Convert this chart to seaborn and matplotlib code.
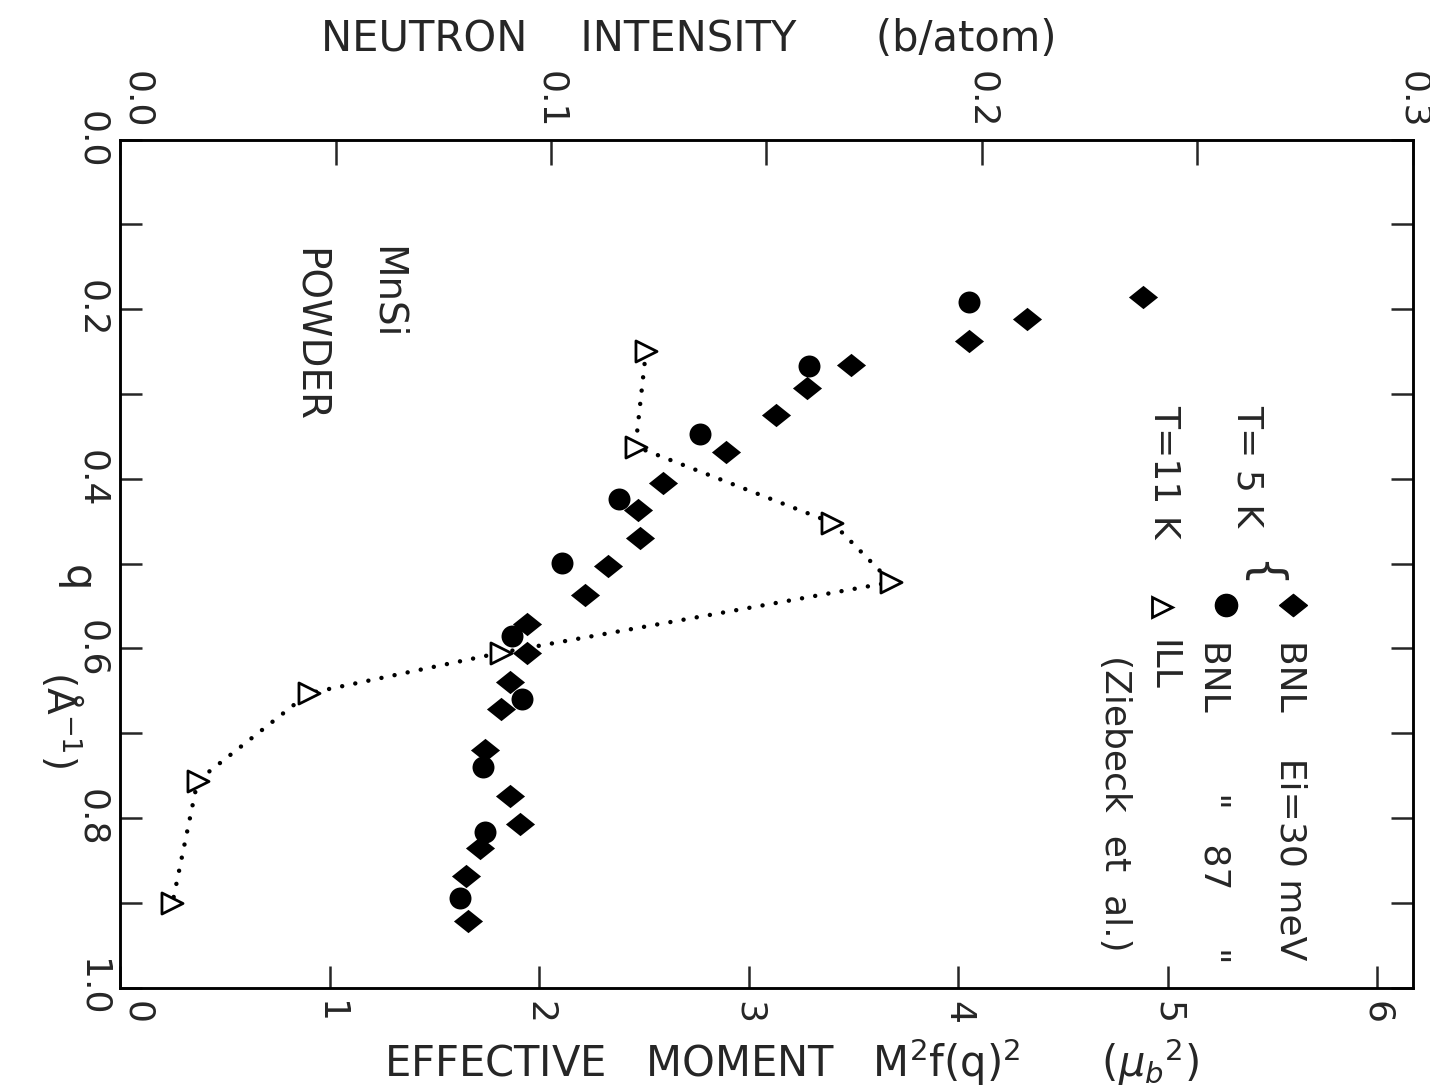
import pandas as pd
import seaborn as sns
import matplotlib.pyplot as plt
from matplotlib.path import Path
from matplotlib.ticker import MultipleLocator, FuncFormatter

# BNL, Ei = 30 meV (filled diamonds), T = 5 K
q_30 = [0.186, 0.212, 0.237, 0.266, 0.293, 0.325, 0.369, 0.405, 0.437, 0.470, 0.503,
        0.537, 0.571, 0.605, 0.640, 0.671, 0.720, 0.774, 0.807, 0.835, 0.869, 0.922]
m_30 = [4.88, 4.33, 4.05, 3.49, 3.28, 3.13, 2.89, 2.59, 2.47, 2.48, 2.33,
        2.22, 1.94, 1.94, 1.86, 1.82, 1.74, 1.86, 1.91, 1.72, 1.65, 1.66]

# BNL, Ei = 87 meV (filled circles), T = 5 K
q_87 = [0.192, 0.267, 0.347, 0.424, 0.499, 0.585, 0.660, 0.740, 0.817, 0.894]
m_87 = [4.05, 3.29, 2.77, 2.38, 2.11, 1.87, 1.92, 1.73, 1.74, 1.62]

# ILL (Ziebeck et al.), T = 11 K (open triangles)
q_ill = [0.249, 0.362, 0.452, 0.522, 0.605, 0.653, 0.756, 0.900]
m_ill = [2.51, 2.46, 3.40, 3.68, 1.82, 0.90, 0.37, 0.25]

bnl30 = pd.DataFrame({'moment': m_30, 'q': q_30})
bnl87 = pd.DataFrame({'moment': m_87, 'q': q_87})
ill = pd.DataFrame({'moment': m_ill, 'q': q_ill})

sns.set_style('ticks')
plt.rcParams['font.family'] = ['DejaVu Sans']
plt.rcParams['mathtext.fontset'] = 'dejavusans'

fig, ax = plt.subplots(figsize=(14.3, 10.9), dpi=100)
fig.subplots_adjust(left=0.084, right=0.988, bottom=0.094, top=0.872)

# flattened diamond like the original
diamond = Path([(-1, 0), (0, 0.8), (1, 0), (0, -0.8), (-1, 0)],
               [Path.MOVETO, Path.LINETO, Path.LINETO, Path.LINETO, Path.CLOSEPOLY])

sns.lineplot(data=ill, x='moment', y='q', sort=False, estimator=None, color='black',
             linewidth=3.2, linestyle=(0, (0.01, 3.0)), dash_capstyle='round', ax=ax)
sns.scatterplot(data=bnl30, x='moment', y='q', marker=diamond, s=440, color='black',
                edgecolor='black', linewidth=0, ax=ax)
sns.scatterplot(data=bnl87, x='moment', y='q', marker='o', s=250, color='black',
                edgecolor='black', linewidth=0, ax=ax)
sns.scatterplot(data=ill, x='moment', y='q', marker='>', s=230, color='white',
                edgecolor='black', linewidth=2.0, ax=ax, zorder=3)

ax.set_xlim(0, 6.17)
ax.set_ylim(1.0, 0.0)
ax.xaxis.set_major_locator(MultipleLocator(1))
ax.yaxis.set_major_locator(MultipleLocator(0.1))
ax.yaxis.set_major_formatter(FuncFormatter(
    lambda v, p: f'{v:.1f}' if round(v * 10) % 2 == 0 else ''))
ax.tick_params(axis='both', direction='in', length=16, width=1.8, labelsize=26,
               right=True, pad=8)
ax.tick_params(axis='x', labelrotation=-90, pad=10)
ax.tick_params(axis='y', labelrotation=-90)
for lab in ax.get_yticklabels():
    lab.set_verticalalignment('center')

ax2 = ax.twiny()
ax2.set_xlim(0, 0.3)
ax2.xaxis.set_major_locator(MultipleLocator(0.05))
ax2.xaxis.set_major_formatter(FuncFormatter(
    lambda v, p: f'{v:.1f}' if round(v * 20) % 2 == 0 else ''))
ax2.tick_params(axis='x', direction='in', length=18, width=1.8, labelsize=26,
                labelrotation=-90, pad=8)

for a in (ax, ax2):
    for sp in a.spines.values():
        sp.set_visible(True)
        sp.set_linewidth(1.8)
        sp.set_color('black')

# the corner labels sit a little clear of the origin, as in the original
fig.canvas.draw()
for lab in ax.get_xticklabels() + ax2.get_xticklabels():
    if lab.get_text() in ('0', '0.0'):
        lab.set_rotation_mode('default')
        lab.set_horizontalalignment('left')

ax.set_xlabel('EFFECTIVE   MOMENT   M$^2$f(q)$^2$      ($\\mu_b$$^2$)', fontsize=30)
ax.xaxis.set_label_coords(0.519, -0.058)
ax2.set_xlabel('NEUTRON    INTENSITY      (b/atom)', fontsize=30)
ax2.xaxis.set_label_coords(0.44, 1.104)
ax.set_ylabel('q', fontsize=30, rotation=-90)
ax.yaxis.set_label_coords(-0.05, 0.483)
ax.text(-0.045, 0.316, '(Å$^{-1}$)', transform=ax.transAxes, fontsize=28,
        rotation=-90, ha='center', va='center')

# sample label, two sideways lines
ax.text((386 - 120) / 1292, (988 - 246) / 849, 'MnSi', transform=ax.transAxes,
        fontsize=28, rotation=-90, ha='center', va='top')
ax.text((308 - 120) / 1292, (988 - 248) / 849, 'POWDER', transform=ax.transAxes,
        fontsize=28, rotation=-90, ha='center', va='top')

# legend, written sideways like the rest of the figure
fx = lambda x: x / 1430
fy = lambda y: 1 - y / 1090
ax.plot([fx(1293)], [fy(605)], marker=diamond, ms=20, color='black', ls='none',
        transform=fig.transFigure, clip_on=False)
ax.plot([fx(1226)], [fy(605)], marker='o', ms=16, color='black', ls='none',
        transform=fig.transFigure, clip_on=False)
ax.plot([fx(1162)], [fy(607)], marker='>', ms=15, mfc='white', mec='black', mew=2.0,
        ls='none', transform=fig.transFigure, clip_on=False)
legend_txt = dict(fontsize=26, rotation=-90, ha='center', va='top')
fig.text(fx(1290), fy(640), 'BNL    Ei=30 meV', **legend_txt)
fig.text(fx(1214), fy(640), 'BNL       "   87     "', **legend_txt)
fig.text(fx(1162), fy(640), 'ILL', **legend_txt)
fig.text(fx(1115), fy(655), '(Ziebeck  et  al.)', **legend_txt)
fig.text(fx(1248), fy(405), 'T= 5 K', **legend_txt)
fig.text(fx(1164), fy(405), 'T=11 K', **legend_txt)
fig.text(fx(1260), fy(560), '{', fontsize=34, rotation=-90, ha='center', va='top')

fig.savefig('out.png', dpi=100)
